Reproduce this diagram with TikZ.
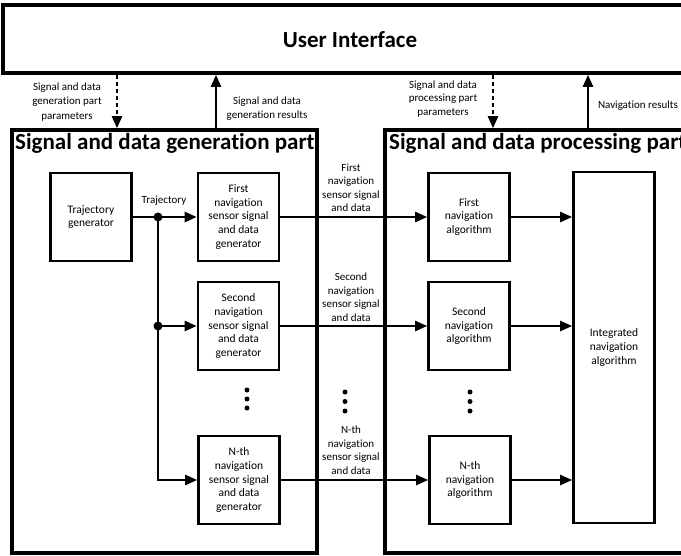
\documentclass[tikz,border=0pt]{standalone}
\usepackage{fontspec}
\setmainfont{Carlito}[RawFeature={-liga;-clig;-dlig;-calt}]
\usetikzlibrary{arrows.meta}
\begin{document}
\begin{tikzpicture}[x=1pt,y=-1pt,
  partbox/.style={draw, line width=3.6pt, inner sep=0pt},
  parttitle/.style={anchor=north west, inner sep=0pt, font=\fontsize{23}{25}\selectfont\bfseries},
  blk/.style={draw, line width=2.6pt, minimum width=81pt, minimum height=88pt,
    align=center, inner sep=2pt, font=\fontsize{11.5}{13.7}\selectfont},
  lbl/.style={align=center, inner sep=0pt, font=\fontsize{11}{13.5}\selectfont},
  flow/.style={line width=2.4pt, -{Triangle[length=12pt,width=10pt]}},
  plain/.style={line width=2.4pt},
  param/.style={line width=2.4pt, dash pattern=on 4pt off 3pt, -{Triangle[length=12pt,width=10pt]}},
  junction/.style={circle, fill, inner sep=0pt, minimum size=9pt},
  dot/.style={circle, fill, inner sep=0pt, minimum size=5pt}]
\useasboundingbox (0,0) rectangle (681,555);

% user interface
\node[partbox, minimum width=697pt, minimum height=68pt] (ui) at (351.5,39) {};
\node[font=\fontsize{23}{25}\selectfont\bfseries, inner sep=0pt] (uititle) at (350,40) {User Interface};

% the two parts
\node[partbox, minimum width=305pt, minimum height=423pt] (gen) at (164.5,341.5) {};
\node[partbox, minimum width=315pt, minimum height=423pt] (proc) at (542.5,341.5) {};
\node[parttitle] (gentitle) at (15,133) {Signal and data generation part};
\node[parttitle] (proctitle) at (389,133) {Signal and data processing part};

% links between the user interface and the parts
\coordinate (c1) at (117,0);
\coordinate (c2) at (216,0);
\coordinate (c3) at (493,0);
\coordinate (c4) at (588,0);
\draw[param] (ui.south -| c1) -- (gen.north -| c1);
\draw[flow] (gen.north -| c2) -- (ui.south -| c2);
\draw[param] (ui.south -| c3) -- (proc.north -| c3);
\draw[flow] (proc.north -| c4) -- (ui.south -| c4);
\node[lbl, font=\fontsize{11}{14.3}\selectfont] (l1) at (67,102) {Signal and data\\generation part\\parameters};
\node[lbl] (l2) at (267,108.5) {Signal and data\\generation results};
\node[lbl] (l3) at (443,99) {Signal and data\\processing part\\parameters};
\node[lbl] (l4) at (638,106) {Navigation results};

% generation blocks
\node[blk] (traj) at (91,217) {Trajectory\\generator};
\node[blk] (g1) at (238.5,217) {First\\navigation\\sensor signal\\and data\\generator};
\node[blk] (g2) at (238.5,326) {Second\\navigation\\sensor signal\\and data\\generator};
\node[blk] (gn) at (239,480) {N-th\\navigation\\sensor signal\\and data\\generator};
\node[lbl] (trajlbl) at (164,201) {Trajectory};

% processing blocks
\node[blk] (a1) at (469,217) {First\\navigation\\algorithm};
\node[blk] (a2) at (469,326) {Second\\navigation\\algorithm};
\node[blk] (an) at (470,480) {N-th\\navigation\\algorithm};
\node[blk, minimum height=351pt] (int) at (614,347.5) {Integrated\\navigation\\algorithm};

% trajectory distribution
\node[junction] (j1) at (158,217) {};
\node[junction] (j2) at (158,326) {};
\draw[flow] (traj.east) -- (g1.west);
\draw[plain] (j1.center) -- (j2.center);
\draw[flow] (j2.center) -- (g2.west);
\draw[flow] (j2.center) |- (gn.west);

% sensor signal and data links
\draw[flow] (g1.east) -- (a1.west);
\draw[flow] (g2.east) -- (a2.west);
\draw[flow] (gn.east) -- (an.west);
\node[lbl] (s1) at (351,188) {First\\navigation\\sensor signal\\and data};
\node[lbl] (s2) at (351,297) {Second\\navigation\\sensor signal\\and data};
\node[lbl] (sn) at (351,450) {N-th\\navigation\\sensor signal\\and data};

% algorithm outputs
\draw[flow] (a1.east) -- (a1.east -| int.west);
\draw[flow] (a2.east) -- (a2.east -| int.west);
\draw[flow] (an.east) -- (an.east -| int.west);

% ellipses
\foreach \y [count=\i] in {390,399,408} \node[dot] (dg\i) at (247,\y) {};
\foreach \y [count=\i] in {392,401.5,411} \node[dot] (dm\i) at (345,\y) {};
\foreach \y [count=\i] in {392,401.5,411} \node[dot] (da\i) at (470,\y) {};
\end{tikzpicture}
\end{document}
